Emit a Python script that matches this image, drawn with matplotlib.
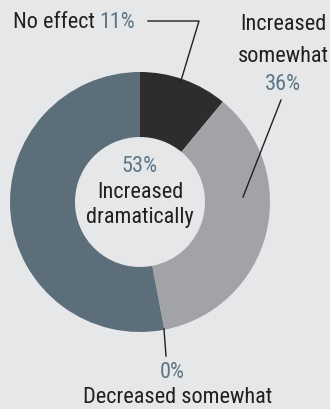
import matplotlib
matplotlib.use("Agg")
import matplotlib.pyplot as plt
from matplotlib import font_manager

categories = ["No effect", "Increased somewhat", "Decreased somewhat", "Increased dramatically"]
values = [11, 36, 0, 53]
colors = ["#2e2c2d", "#a2a3a7", "#a2a3a7", "#5b6e7a"]

names = {f.name for f in font_manager.fontManager.ttflist}
fam = [f for f in ["Roboto Condensed", "Archivo Narrow", "Liberation Sans"] if f in names] + ["DejaVu Sans"]
plt.rcParams["font.family"] = fam

bg = "#e6e7e9"
pct_c = "#5e7686"
txt_c = "#231f20"
W, H = 330, 410
fig = plt.figure(figsize=(W / 100, H / 100), dpi=100, facecolor=bg)
ax = fig.add_axes([0, 0, 1, 1])

def Y(py):
    return H - py

cx, cy, R = 140, Y(203), 130
ax.pie(values, colors=colors, startangle=90, counterclock=False, center=(cx, cy),
       radius=R, wedgeprops=dict(width=R * 0.5, linewidth=0), frame=True)
ax.set_xlim(0, W)
ax.set_ylim(0, H)
ax.set_aspect("equal")
ax.axis("off")

fs = 16
# No effect
ax.text(13, Y(22), categories[0], ha="left", va="center", fontsize=fs, color=txt_c)
ax.text(99, Y(22), f"{values[0]}%", ha="left", va="center", fontsize=fs, color=pct_c)
ax.plot([148, 199, 180], [Y(22), Y(22), Y(85)], color="#231f20", lw=1)

# Increased somewhat
ax.text(283, Y(24), "Increased", ha="center", va="center", fontsize=fs, color=txt_c)
ax.text(283, Y(57), "somewhat", ha="center", va="center", fontsize=fs, color=txt_c)
ax.text(283, Y(85), f"{values[1]}%", ha="center", va="center", fontsize=fs, color=pct_c)
ax.plot([281, 243], [Y(101), Y(198)], color="#231f20", lw=1)

# Center
ax.text(cx, Y(167), f"{values[3]}%", ha="center", va="center", fontsize=fs, color=pct_c)
ax.text(cx, Y(193), "Increased", ha="center", va="center", fontsize=fs, color=txt_c)
ax.text(cx, Y(218), "dramatically", ha="center", va="center", fontsize=fs, color=txt_c)

# Decreased somewhat
ax.plot([164, 166], [Y(330), Y(357)], color="#231f20", lw=1)
ax.text(172, Y(373), f"{values[2]}%", ha="center", va="center", fontsize=fs, color=pct_c)
ax.text(178, Y(398), "Decreased somewhat", ha="center", va="center", fontsize=fs, color=txt_c)

fig.savefig("out.png", dpi=100, facecolor=bg)
